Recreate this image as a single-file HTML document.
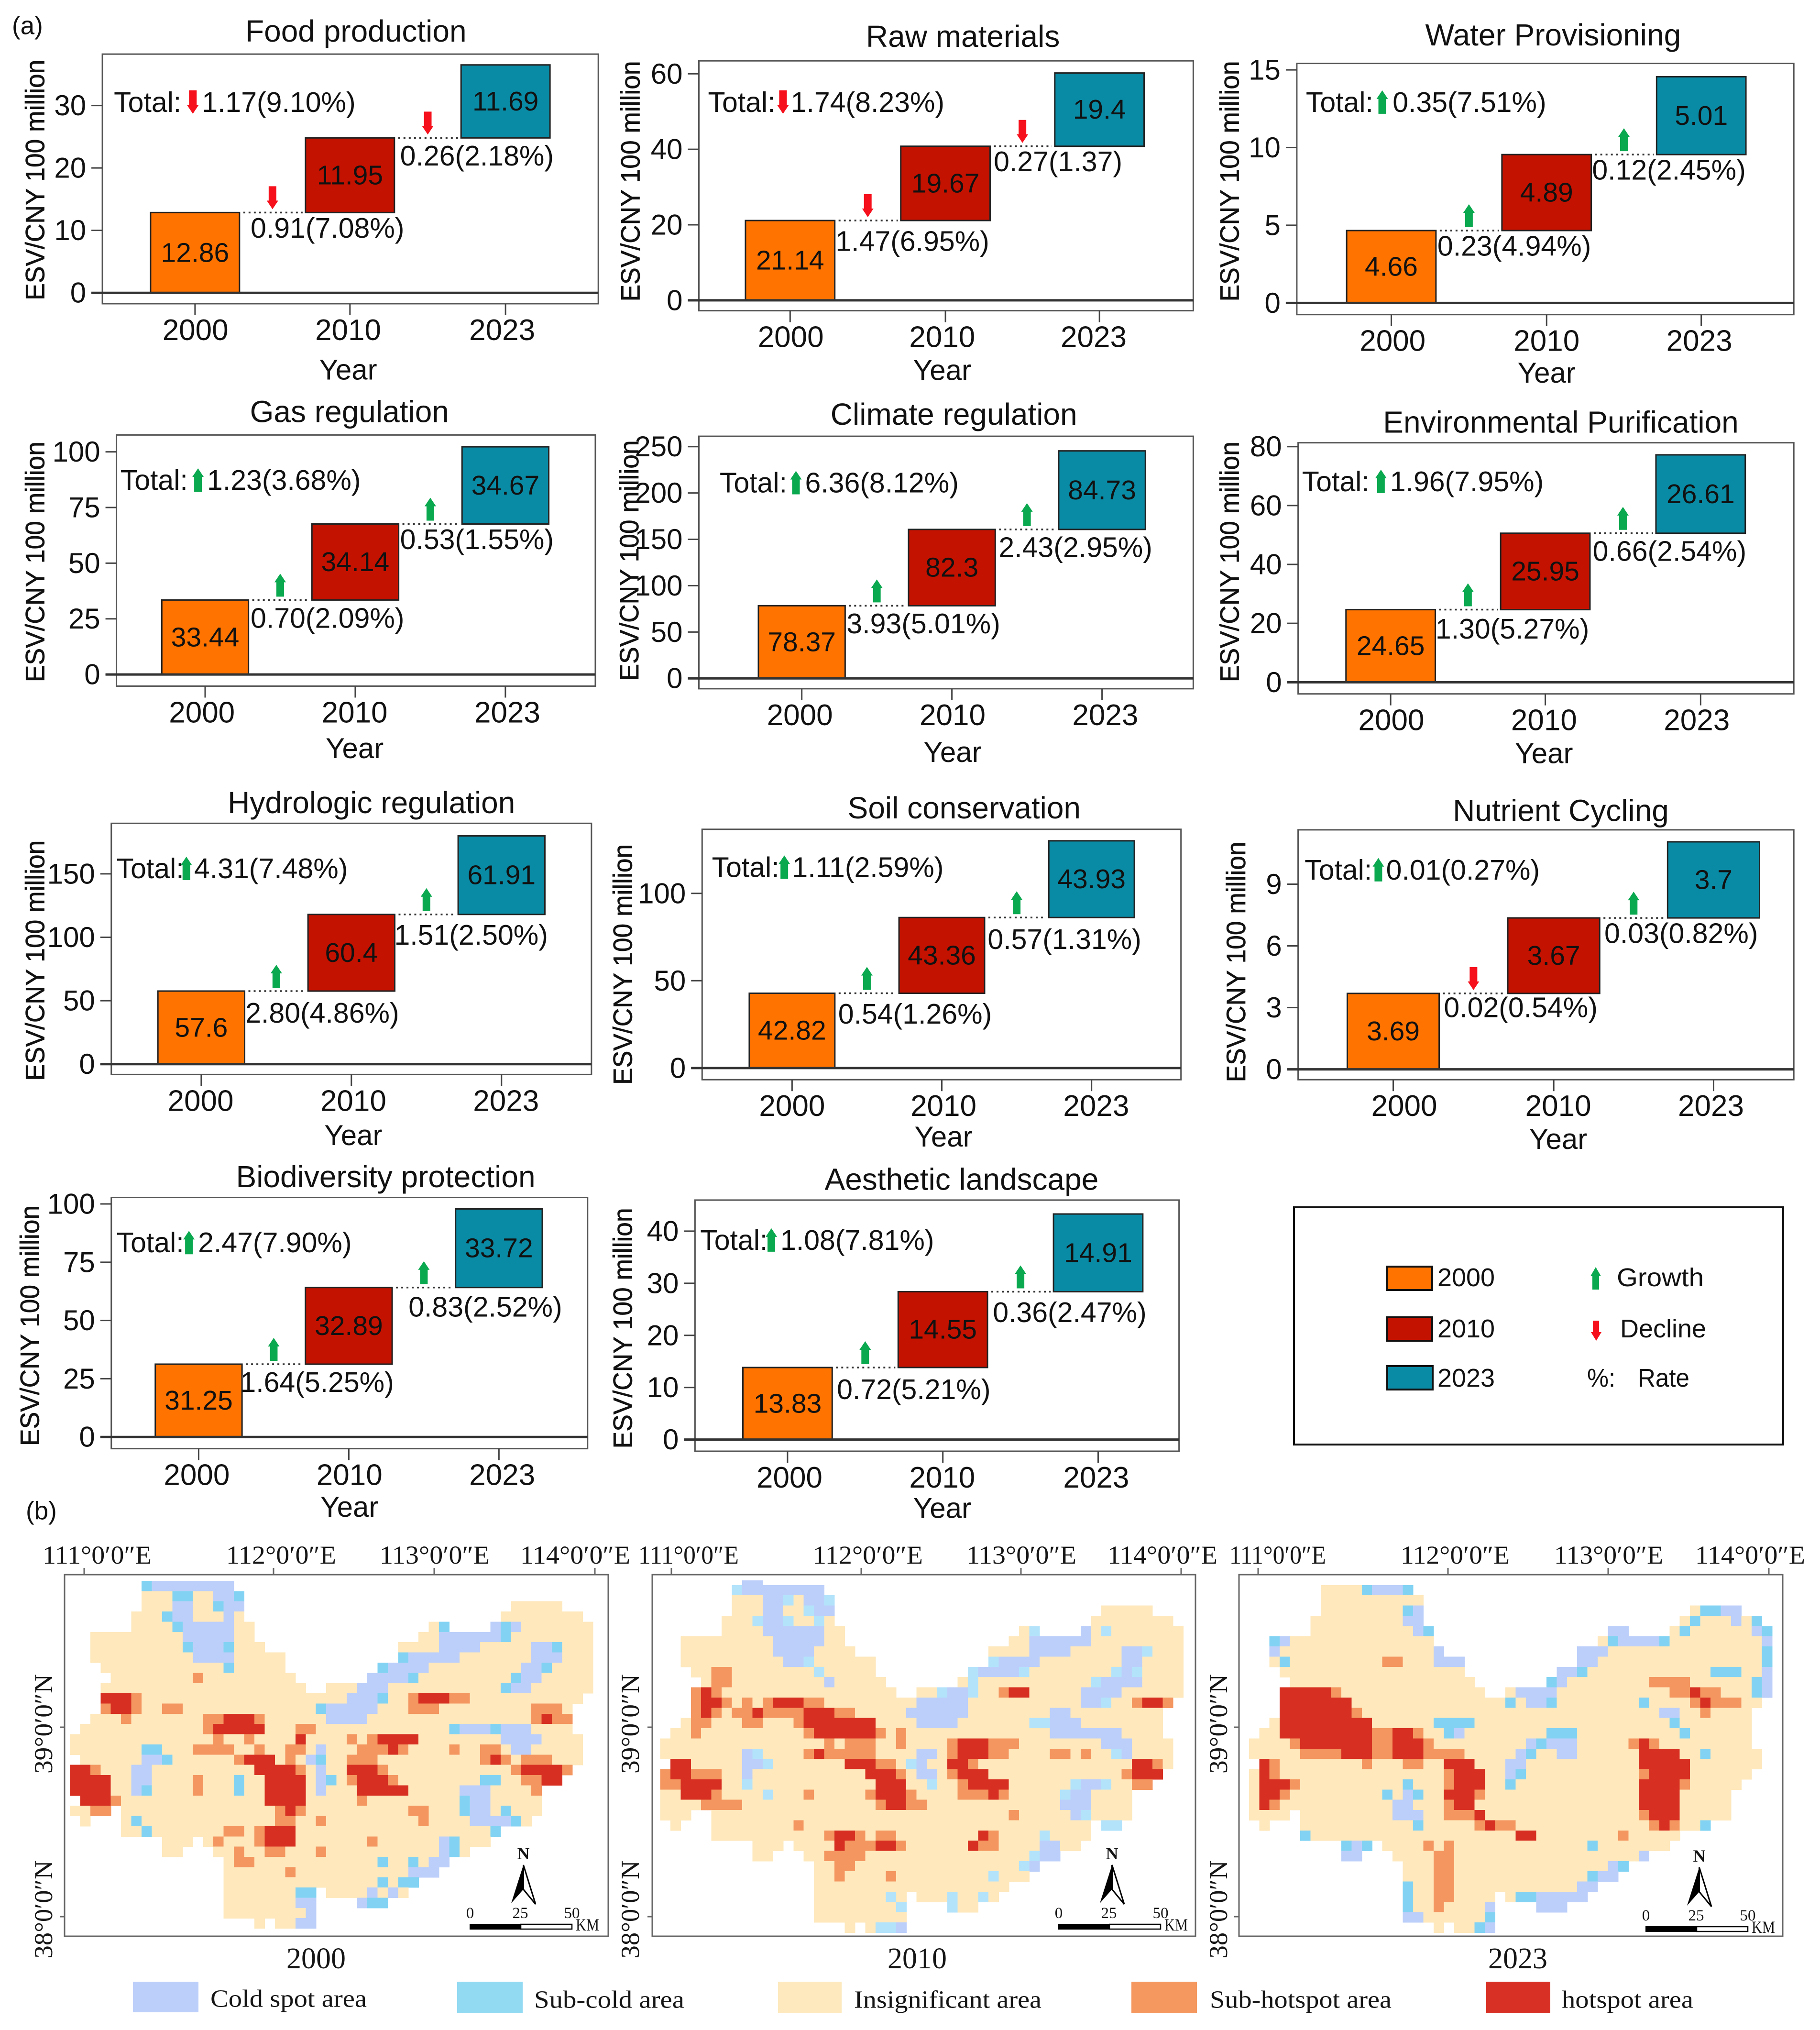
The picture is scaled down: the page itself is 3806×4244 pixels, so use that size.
<!DOCTYPE html>
<html lang="en">
<head>
<meta charset="utf-8">
<title>ESV waterfall panels and hotspot maps</title>
<style>
html,body{margin:0;padding:0;background:#fff}
svg{display:block}
.sans{font-family:"Liberation Sans",sans-serif;fill:#111}
.serif{font-family:"Liberation Serif",serif;fill:#151515}
text{dominant-baseline:central}
</style>
</head>
<body>
<svg id="figure" xmlns="http://www.w3.org/2000/svg" width="3806" height="4244" viewBox="0 0 3806 4244">
<rect x="0" y="0" width="3806" height="4244" fill="#fff"/>
<text class="sans" x="25" y="54" font-size="53">(a)</text>
<text class="sans" x="54" y="3159" font-size="53">(b)</text>
<g id="charts"></g>

<g>
<rect x="2706" y="2524" width="1023" height="496" fill="#fff" stroke="#111" stroke-width="4"/>
<rect x="2900" y="2648" width="95" height="49" fill="#ff7300" stroke="#111" stroke-width="4"/>
<rect x="2900" y="2754" width="95" height="49" fill="#c41200" stroke="#111" stroke-width="4"/>
<rect x="2901" y="2856" width="95" height="49" fill="#0a8ba5" stroke="#111" stroke-width="4"/>
<text class="sans" x="3006" y="2671" font-size="54" textLength="120" lengthAdjust="spacingAndGlyphs">2000</text>
<text class="sans" x="3006" y="2778" font-size="54" textLength="120" lengthAdjust="spacingAndGlyphs">2010</text>
<text class="sans" x="3006" y="2881" font-size="54" textLength="120" lengthAdjust="spacingAndGlyphs">2023</text>
<polygon points="3337,2649 3348,2668 3344,2668 3344,2696 3330,2696 3330,2668 3326,2668" fill="#0aa84f"/>
<polygon points="3338,2803 3349,2785 3344,2785 3344,2761 3331,2761 3331,2785 3327,2785" fill="#f5101c"/>
<text class="sans" x="3381" y="2671" font-size="54" textLength="182" lengthAdjust="spacingAndGlyphs">Growth</text>
<text class="sans" x="3388" y="2778" font-size="54" textLength="180" lengthAdjust="spacingAndGlyphs">Decline</text>
<text class="sans" x="3319" y="2881" font-size="54" textLength="59" lengthAdjust="spacingAndGlyphs">%:</text>
<text class="sans" x="3425" y="2881" font-size="54" textLength="108" lengthAdjust="spacingAndGlyphs">Rate</text>
</g>

<g id="maps"></g>

<g fill="none" stroke="#666" stroke-width="3">
<rect x="135" y="3292" width="1137" height="756"/>
<rect x="1364" y="3292" width="1136" height="756"/>
<rect x="2591" y="3292" width="1137" height="756"/>
<path d="M176 3292v-14M572 3292v-14M908 3292v-14M1244 3292v-14M135 3611h-10M135 4007h-10"/>
<path d="M1404 3292v-14M1801 3292v-14M2135 3292v-14M2470 3292v-14M1364 3611h-10M1364 4007h-10"/>
<path d="M2631 3292v-14M3028 3292v-14M3363 3292v-14M3699 3292v-14M2591 3611h-10M2591 4007h-10"/>
</g>

<g class="serif" font-size="54" text-anchor="start">
<text class="serif" x="89" y="3251" textLength="228" lengthAdjust="spacingAndGlyphs">111°0′0″E</text>
<text class="serif" x="473" y="3251" textLength="230" lengthAdjust="spacingAndGlyphs">112°0′0″E</text>
<text class="serif" x="794" y="3251" textLength="230" lengthAdjust="spacingAndGlyphs">113°0′0″E</text>
<text class="serif" x="1088" y="3251" textLength="230" lengthAdjust="spacingAndGlyphs">114°0′0″E</text>
<text class="serif" x="1335" y="3251" textLength="210" lengthAdjust="spacingAndGlyphs">111°0′0″E</text>
<text class="serif" x="1700" y="3251" textLength="230" lengthAdjust="spacingAndGlyphs">112°0′0″E</text>
<text class="serif" x="2021" y="3251" textLength="230" lengthAdjust="spacingAndGlyphs">113°0′0″E</text>
<text class="serif" x="2316" y="3251" textLength="230" lengthAdjust="spacingAndGlyphs">114°0′0″E</text>
<text class="serif" x="2571" y="3251" textLength="202" lengthAdjust="spacingAndGlyphs">111°0′0″E</text>
<text class="serif" x="2929" y="3251" textLength="228" lengthAdjust="spacingAndGlyphs">112°0′0″E</text>
<text class="serif" x="3250" y="3251" textLength="228" lengthAdjust="spacingAndGlyphs">113°0′0″E</text>
<text class="serif" x="3545" y="3251" textLength="230" lengthAdjust="spacingAndGlyphs">114°0′0″E</text>
<text class="serif" transform="translate(91 3604) rotate(-90)" text-anchor="middle" textLength="208" lengthAdjust="spacingAndGlyphs">39°0′0″N</text>
<text class="serif" transform="translate(91 3992) rotate(-90)" text-anchor="middle" textLength="205" lengthAdjust="spacingAndGlyphs">38°0′0″N</text>
<text class="serif" transform="translate(1318 3604) rotate(-90)" text-anchor="middle" textLength="208" lengthAdjust="spacingAndGlyphs">39°0′0″N</text>
<text class="serif" transform="translate(1318 3992) rotate(-90)" text-anchor="middle" textLength="205" lengthAdjust="spacingAndGlyphs">38°0′0″N</text>
<text class="serif" transform="translate(2548 3604) rotate(-90)" text-anchor="middle" textLength="208" lengthAdjust="spacingAndGlyphs">39°0′0″N</text>
<text class="serif" transform="translate(2548 3992) rotate(-90)" text-anchor="middle" textLength="205" lengthAdjust="spacingAndGlyphs">38°0′0″N</text>
</g>

<text class="serif" x="661" y="4095" font-size="62" text-anchor="middle">2000</text>
<text class="serif" x="1918" y="4095" font-size="62" text-anchor="middle">2010</text>
<text class="serif" x="3174" y="4095" font-size="62" text-anchor="middle">2023</text>

<g transform="translate(0 0)">
<text class="serif" x="1094.5" y="3875" font-size="36" text-anchor="middle" font-weight="bold">N</text>
<polygon points="1094.5,3899 1069,3979 1094.5,3950" fill="#000"/>
<polygon points="1094.5,3899 1120,3981 1094.5,3950" fill="#fff" stroke="#000" stroke-width="3"/>
<text class="serif" x="983" y="4000" font-size="33" text-anchor="middle">0</text>
<text class="serif" x="1088" y="4000" font-size="33" text-anchor="middle">25</text>
<text class="serif" x="1196" y="4000" font-size="33" text-anchor="middle">50</text>
<rect x="982" y="4022" width="107" height="12" fill="#000"/>
<rect x="1089" y="4023" width="107" height="10" fill="#fff" stroke="#000" stroke-width="2.5"/>
<text class="serif" x="1204" y="4024" font-size="36" textLength="49" lengthAdjust="spacingAndGlyphs">KM</text>
</g>
<g transform="translate(1231 0)">
<text class="serif" x="1094.5" y="3875" font-size="36" text-anchor="middle" font-weight="bold">N</text>
<polygon points="1094.5,3899 1069,3979 1094.5,3950" fill="#000"/>
<polygon points="1094.5,3899 1120,3981 1094.5,3950" fill="#fff" stroke="#000" stroke-width="3"/>
<text class="serif" x="983" y="4000" font-size="33" text-anchor="middle">0</text>
<text class="serif" x="1088" y="4000" font-size="33" text-anchor="middle">25</text>
<text class="serif" x="1196" y="4000" font-size="33" text-anchor="middle">50</text>
<rect x="982" y="4022" width="107" height="12" fill="#000"/>
<rect x="1089" y="4023" width="107" height="10" fill="#fff" stroke="#000" stroke-width="2.5"/>
<text class="serif" x="1204" y="4024" font-size="36" textLength="49" lengthAdjust="spacingAndGlyphs">KM</text>
</g>
<g transform="translate(2459 5)">
<text class="serif" x="1094.5" y="3875" font-size="36" text-anchor="middle" font-weight="bold">N</text>
<polygon points="1094.5,3899 1069,3979 1094.5,3950" fill="#000"/>
<polygon points="1094.5,3899 1120,3981 1094.5,3950" fill="#fff" stroke="#000" stroke-width="3"/>
<text class="serif" x="983" y="4000" font-size="33" text-anchor="middle">0</text>
<text class="serif" x="1088" y="4000" font-size="33" text-anchor="middle">25</text>
<text class="serif" x="1196" y="4000" font-size="33" text-anchor="middle">50</text>
<rect x="982" y="4022" width="107" height="12" fill="#000"/>
<rect x="1089" y="4023" width="107" height="10" fill="#fff" stroke="#000" stroke-width="2.5"/>
<text class="serif" x="1204" y="4024" font-size="36" textLength="49" lengthAdjust="spacingAndGlyphs">KM</text>
</g>

<g>
<rect x="278" y="4143" width="137" height="64" fill="#bccffa"/>
<text class="serif" x="440" y="4179" font-size="52" textLength="327" lengthAdjust="spacingAndGlyphs">Cold spot area</text>
<rect x="956" y="4143" width="137" height="66" fill="#92d9f2"/>
<text class="serif" x="1117" y="4181" font-size="52" textLength="314" lengthAdjust="spacingAndGlyphs">Sub-cold area</text>
<rect x="1627" y="4143" width="133" height="66" fill="#fde9bd"/>
<text class="serif" x="1786" y="4181" font-size="52" textLength="392" lengthAdjust="spacingAndGlyphs">Insignificant area</text>
<rect x="2366" y="4143" width="137" height="66" fill="#f49860"/>
<text class="serif" x="2530" y="4181" font-size="52" textLength="380" lengthAdjust="spacingAndGlyphs">Sub-hotspot area</text>
<rect x="3108" y="4143" width="134" height="66" fill="#d83024"/>
<text class="serif" x="3266" y="4181" font-size="52" textLength="275" lengthAdjust="spacingAndGlyphs">hotspot area</text>
</g>
</svg>

<script>
/* ---------- chart data ---------- */
const panelTitles = ["Food production","Raw materials","Water Provisioning","Gas regulation","Climate regulation","Environmental Purification","Hydrologic regulation","Soil conservation","Nutrient Cycling","Biodiversity protection","Aesthetic landscape"];
const years = ["2000","2010","2023"];
const values2000 = [12.86,21.14,4.66,33.44,78.37,24.65,57.6,42.82,3.69,31.25,13.83];
const values2010 = [11.95,19.67,4.89,34.14,82.3,25.95,60.4,43.36,3.67,32.89,14.55];
const values2023 = [11.69,19.4,5.01,34.67,84.73,26.61,61.91,43.93,3.7,33.72,14.91];
const totalChangeLabels = ["1.17(9.10%)","1.74(8.23%)","0.35(7.51%)","1.23(3.68%)","6.36(8.12%)","1.96(7.95%)","4.31(7.48%)","1.11(2.59%)","0.01(0.27%)","2.47(7.90%)","1.08(7.81%)"];
const firstChangeLabels = ["0.91(7.08%)","1.47(6.95%)","0.23(4.94%)","0.70(2.09%)","3.93(5.01%)","1.30(5.27%)","2.80(4.86%)","0.54(1.26%)","0.02(0.54%)","1.64(5.25%)","0.72(5.21%)"];
const secondChangeLabels = ["0.26(2.18%)","0.27(1.37)","0.12(2.45%)","0.53(1.55%)","2.43(2.95%)","0.66(2.54%)","1.51(2.50%)","0.57(1.31%)","0.03(0.82%)","0.83(2.52%)","0.36(2.47%)"];
const yTickLabels = [[0,10,20,30],[0,20,40,60],[0,5,10,15],[0,25,50,75,100],[0,50,100,150,200,250],[0,20,40,60,80],[0,50,100,150],[0,50,100],[0,3,6,9],[0,25,50,75,100],[0,10,20,30,40]];

/* ---------- map data: one string per grid row, runs of class+column range ---------- */
/* c cold spot, s sub-cold, i insignificant, h sub-hotspot, H hotspot */
const map2000Cells = [
"s7 c8-15",
"i7-9 s10-11 i12-13 c14-15 s16",
"i7-9 c10-11 i12-13 s14 c15-16 i43-47",
"i6-8 s9 c10-11 i12-14 c15 i16 i42-49",
"i6-9 s10 c11-15 i16-17 i35 s36 c41 s42 c43 i44-50",
"i2-10 c11-15 i16-17 i34-35 c36-41 s42 i43-50",
"i2-10 s11 c12-14 s15 i16-18 i32-35 c36-39 i40-44 c45-46 s47 i48-50",
"i2-11 c12-15 i16-20 s32 c33-37 i38-44 c45-47 i48-50",
"i3-14 s15 i16-20 s30 c31-34 i35-43 c44-45 s46 i47-50",
"i4-11 h12 i13-21 c29-32 s33 i34-42 s43 c44-45 i46-50",
"i3-22 i25-27 c28-30 i31-41 s42 c43-44 i45-50",
"H3-5 h6 i7-26 c27-29 s30 i31-32 h33 H34-36 h37-38 i39-49",
"h3 H4-5 h6 i7-8 h9-10 i11-23 s24 c25-29 i30-32 h33-35 i36-44 h45-47 i48",
"i2-4 h5 i6-12 h13-14 H15-17 h18 i19-24 c25-28 i29-44 h45 H46 h47-48",
"i1-12 h13 H14-18 i19-21 h22-23 i24-36 s37 c38-40 s41 c42-44 i45-48",
"i0-13 h14 i15-16 h17 i18-21 H22 i23-26 h27 i28 h29 H30-33 i34-41 c42-45 i46-49",
"i0-6 s7-8 i9-11 h12-15 i16-17 h18 i19-20 h21-22 i23 c24 i25-27 h28-30 H31 h32 i33-36 h37 i38-39 h40-41 i42 c43-44 i45-49",
"i1-6 c7-8 s9 i10-15 h16 H17-19 i20 h21 i22 c23 s24 i25-26 h27-29 i30-39 h40 H41 h42 i43 h44-46 i47-49",
"H0-1 h2 i3-5 c6-7 i8-17 H18-21 h22 i23 c24 i25-26 H27-29 h30 i31-42 h43 H44-47 h48",
"H0-3 i4-5 c6-7 i8-11 h12 i13-15 s16 i17-18 H19-22 i23 c24 s25 i26 h27 H28-30 h31 i32-39 s40-41 i42-43 h44-45 H46-47",
"H0-3 i4-5 c6 s7 i8-11 h12 i13-15 s16 i17-18 H19-22 i23 c24 i25-27 H28-32 i33-37 c38-40 i41-44 h45",
"H1-3 h4 i5-18 H19-22 i23-27 h28 i29-37 s38 c39-40 i41-45",
"i0-1 h2-3 i5-19 h20 H21 h22 i23-32 h33-34 i35-37 s38 c39-40 i41 s42 i43-45",
"i1 i5 s6 i7-19 h20-21 i22-23 h24 i25-33 h34 i35-38 c39-42 s43 i44",
"i5-6 s7 i8-14 h15-16 i17 h18 H19-21 i22-40 s41",
"i9-11 i13 h14 i15-17 h18 H19-21 i22-28 h29 i30-35 c36 s37 i38-40",
"i9-10 i14-15 h16 i17-18 h19-20 i21-23 h24 i25-35 c36 s37 i38",
"i15 h16-17 i18-29 s30 i31-32 s33 i34 c35-36",
"i15-20 h21 i22-32 c33-35",
"i15-29 s30 i31 s32-33",
"i15-21 s22-23 i25-28 c29 i30 c31 i32",
"i15-21 c22-23 c28 s29-30",
"i15-22 c23",
"i18 i20-21 c22-23"
];
const map2010Cells = [
"c8-9",
"s7 c8-15",
"i7-9 c10-11 s12 i13 c14-15 s16",
"i7-9 c10-11 i12-13 s14 c15-16 i43-47",
"i6-8 s9 c10-11 s12 i13-14 s15 i16 i42-49",
"i6-9 c10-15 i16-17 i35 s36 c41 i42 s43 i44-50",
"i2-10 c11-15 i16-17 i34-35 c36-41 i42-50",
"i2-10 c11-14 i15-18 i32-35 c36-39 i40-44 c45-46 s47 i48-50",
"i2-11 c12-13 s14 i15-20 s32 c33-36 i37-44 c45-46 i47-50",
"i3-4 h5-6 i7-14 s15 i16-20 s30 c31-34 s35 i36-43 s44 c45 s46 i47-50",
"i4 h5-6 i7-15 c16 i17-21 i29 s30 i31-41 s42 c43-46 i47-50",
"h3 H4 h5 i6-22 i25-26 s27 c28-29 s30 i31-32 h33 H34-35 i36-40 c41-44 i45-50",
"h3 H4-5 h6 i7 h8 i9 h10 H11-13 h14-15 i16-24 c25-29 i30-40 c41-42 s43 i44-45 h46 H47-48 h49",
"h3 H4 h5 i6 h7-8 H9 h10-13 H14-16 h17-18 i19-23 c24-29 i30-37 c38-39 i40-48",
"i2 h3-4 i5-7 h8-9 i10-12 h13 H14-20 i21-24 c25-28 i29-35 s36-37 c38-40 i41-48",
"i1-2 h3 i4-13 h14 H15-20 h21 i22 h23 i24-37 c38-44 i45-48",
"i0-15 h16 i17 h18-20 i21-22 h23 i24-27 h28 H29-31 h32-34 i35-42 c43-45 i46-49",
"i0-7 c8 s9 i10-13 h14 H15 h16-20 i21-24 c25-26 i27 h28 H29-31 h32-33 i34-37 h38-39 i40 h41 i42-43 s44 c45 i46-49",
"H1-2 i3-7 c8-9 s10 i11-17 H18-20 h21-22 i23 s24 c25 i26-27 H28-29 h30 i31-45 H46-47 h48 i49",
"h0 H1-2 h3-5 i6-7 c8 i9-19 H20-22 h23 i24 c25-26 i27 h28 H29-31 i32-44 h45 H46-48",
"h0-1 H2-5 i6-7 s8 i9-20 H21-23 i24-25 s26 i27-28 h29 H30-33 i34-39 s40 c41-42 s43 i44-45 h46-47",
"i0-1 H2-4 h5 i6-9 s10 i11-13 h14 i15-19 h20 H21-23 h24 i25-28 h29-31 H32 h33 i34-38 s39 c40-41 i42-45",
"i0-3 h4-7 i8-20 h21 H22-23 h24-25 i26-38 c39-41 i42-45",
"i0-2 i5-33 h34 i35-39 c40 s41 i42-45",
"i1 i5-12 h13 i14-41 s43-44",
"i5-15 h16 H17-18 h19 i20 h21-22 i23-30 H31 h32 i33-36 s37 i38-41",
"i9-11 i13-16 H17 h18-20 H21-22 h23 i24-29 H30 h31-32 i33-36 c37-38 i39-40",
"i9-10 i14-15 h16-19 i20-35 s36 c37-38",
"i15-16 h17-18 i19-34 s35 c36",
"i15-16 h17 i18-21 h22 i23-31 s32 i33-35",
"i15-33",
"i15-21 s22 i23 i25-27 s28 i29-30 s31 i32",
"i15-22 s23 s28 i29-30",
"i15-23",
"i18 i20 s21-22 c23"
];
const map2023Cells = [
"",
"i7-10 s11 c12-14 s15",
"i7-16",
"i7-14 s15 c16 i43 s44-45 c46-47",
"i6-14 c15-16 i42 s43 i44-46 c47 i48 s49",
"i6-15 c16 s17 c35-36 i41 s42 i43-48 c49 s50",
"s2 c3 i4-17 i34 s35 c36-39 s40 i41-49 c50",
"c2 i3-17 c18 c32-34 i35-49 s50",
"i2 s3 i4-12 h13-14 i15-17 c18-20 c32-33 i34-49 s50",
"i3-20 c30-31 s32 i33-44 s45-47 i48-49 c50",
"i4-21 s29 c30 i31-38 h39-42 i43-48 s49 c50",
"H3-7 h8 i9-22 i25 c26-29 i30-40 h41-42 H43 h44-45 i46-48 s49 c50",
"H3-9 i10-24 s25 i26 c27-28 s29 i30-37 s38 i39-42 h43 H44 h45-47 i48-49",
"H3-9 h10 i11-39 c40-41 i42-43 h44 i45-48",
"i2 H3-11 i12-17 s18-21 i22-40 s41 i42-48",
"i1-2 H3-11 h12-13 H14-15 h16 i17-18 s19 c20 i21-28 s29-31 i32-41 s42 i43-48",
"i0-3 h4 H5-11 h12-13 H14-16 h17 i18-26 c27 s28 c29-31 i32-36 h37 H38 h39 i40-48",
"i0-4 h5-8 H9-11 h12-13 H14-16 h17-20 i21-25 c26 s27 i28-29 c30-31 i32-37 H38-41 i42-43 s44 i45-49",
"H1 h2 i3-10 h11 i12-14 h15-16 i17-18 H19-21 i22-24 c25-26 i27-37 H38-42 i43-49",
"i0 H1 h2 i3-18 h19 H20-22 i23-24 c25 s26 i27-37 h38 H39-42 i43-48",
"i0 H1-3 h4 i5-14 s15 i16-18 h19 H20-22 i23-24 s25 i26-37 H38-41 h42 i43-47",
"i0 H1-2 h3 i4-12 s13 i14 c15 s16 i17-18 H19-21 h22 i23-37 H38-41 i42-46",
"i0 H1 h2 i3-13 c14-15 i16-18 h19 H20-21 i22-37 H38-41 i42-46",
"i0-3 i5-13 c14-16 i17-18 h19-21 H22 i23-37 h38 H39-41 i42-46",
"i1 i5-15 s16 i17-21 h22 H23 h24-25 i26-38 h39 H40 h41 i42-43 s44",
"s5 i6-25 H26-27 i28-35 h36 i37-41",
"s9 c10 s11 i13-16 h17 i18 h19 i20-32 s33 i34-40",
"c9-10 i14-17 h18-19 i20-37 c38",
"i15-17 h18-19 i20-34 c35 s36",
"i15-17 h18-19 i20-32 s33 c34-35",
"s15 i16-17 h18-19 i20-31 c32-33",
"s15 i16-17 h18-19 i20-23 i25 s26-27 c28-32",
"s15 i16-17 h18 i19-22 c23 c28-30",
"c15-16 i17-22 s23",
"i18 i20-21 s22 c23"
];

/* ---------- layout (not data): panel placement in reference preview units ---------- */
const S = 2.7065;
const barColors = ["#ff7300", "#c41200", "#0a8ba5"];
const SVG_NS = "http://www.w3.org/2000/svg";
const panelFrames = [
 {l:79.1,r:462.3,t:41.8,b:234.6,zero:226.2,tickTop:81.5,bars:[150.7,270.4,390.6],bw:68.7,labs:[151,269,388],tx:275,ty:24,ax:27,ay:139,totX:88,totY:79,arrX:149,numX:156,yearDy:51,l1x:253,l1dy:12,l2x:368.5,l2dy:14},
 {l:540,r:922,t:47,b:240,zero:232,tickTop:57,bars:[610.5,730.5,849.5],bw:69,labs:[611,728,845],tx:744,ty:28,ax:487,ay:140,totX:547,totY:79,arrX:605,numX:611,yearDy:46,l1x:705,l1dy:16,l2x:817.5,l2dy:12},
 {l:1002,r:1386,t:49,b:243,zero:234,tickTop:54,bars:[1075,1195,1314.5],bw:69,labs:[1076,1195,1313],tx:1200,ty:27,ax:950,ay:140,totX:1009,totY:79,arrX:1068,numX:1076,yearDy:45,l1x:1170,l1dy:12,l2x:1289.5,l2dy:12},
 {l:90,r:460,t:336,b:530,zero:521,tickTop:349,bars:[158.5,274.5,390.5],bw:67,labs:[156,274,392],tx:270,ty:318,ax:27,ay:434,totX:93,totY:371,arrX:153,numX:160,yearDy:48,l1x:253,l1dy:14,l2x:368.5,l2dy:12},
 {l:540,r:922,t:337,b:532,zero:524,tickTop:345,bars:[619.5,735.5,851.5],bw:67,labs:[618,736,854],tx:737,ty:320,ax:486,ay:433,totX:556,totY:373,arrX:615,numX:622,yearDy:49,l1x:713.5,l1dy:14,l2x:831,l2dy:14},
 {l:1003,r:1386,t:342,b:536,zero:527,tickTop:345,bars:[1074.5,1194,1314],bw:69,labs:[1075,1193,1311],tx:1206,ty:326,ax:950,ay:434,totX:1006,totY:372,arrX:1067,numX:1074,yearDy:46,l1x:1168.5,l1dy:15,l2x:1290,l2dy:14},
 {l:86,r:457,t:636,b:830,zero:822,tickTop:675,bars:[155.5,271.5,387.5],bw:67,labs:[155,273,391],tx:287,ty:620,ax:27,ay:742,totX:90,totY:671,arrX:144,numX:150,yearDy:47,l1x:249,l1dy:17,l2x:364,l2dy:16},
 {l:542.5,r:912.5,t:640.6,b:834,zero:825,tickTop:690.1,bars:[612,727.7,843.4],bw:66.1,labs:[612,729,847],tx:745,ty:624,ax:481,ay:745,totX:550,totY:670,arrX:606,numX:612,yearDy:44,l1x:707,l1dy:16,l2x:822.5,l2dy:17},
 {l:1003,r:1386,t:641,b:834,zero:826,tickTop:683,bars:[1076.5,1200.5,1324],bw:71,labs:[1085,1204,1322],tx:1206,ty:626,ax:955,ay:743,totX:1008,totY:672,arrX:1065,numX:1071,yearDy:46,l1x:1175,l1dy:11,l2x:1299,l2dy:12},
 {l:86,r:454,t:925,b:1119,zero:1110,tickTop:930,bars:[153.5,269.5,385.5],bw:67,labs:[152,270,388],tx:298,ty:909,ax:23,ay:1024,totX:90,totY:960,arrX:146,numX:153,yearDy:45,l1x:245,l1dy:14,l2x:375,l2dy:15},
 {l:537,r:911,t:927,b:1121,zero:1112,tickTop:951,bars:[608.5,728.5,848.5],bw:69,labs:[610,728,847],tx:743,ty:911,ax:481,ay:1026,totX:541,totY:958,arrX:596,numX:603,yearDy:44,l1x:706,l1dy:17,l2x:826.5,l2dy:16}
];

function create(tag, attrs, parent, content) {
  const node = document.createElementNS(SVG_NS, tag);
  for (const key in attrs) node.setAttribute(key, attrs[key]);
  if (content !== undefined) node.textContent = content;
  parent.appendChild(node);
  return node;
}

function drawArrow(parent, cx, top, len, isUp) {
  const color = isUp ? "#0aa84f" : "#f5101c";
  const head = 18, hw = 12, sw = 8;
  const bottom = top + len;
  const pts = isUp
    ? [[cx,top],[cx+hw,top+head],[cx+sw,top+head],[cx+sw,bottom],[cx-sw,bottom],[cx-sw,top+head],[cx-hw,top+head]]
    : [[cx,bottom],[cx+hw,bottom-head],[cx+sw,bottom-head],[cx+sw,top],[cx-sw,top],[cx-sw,bottom-head],[cx-hw,bottom-head]];
  const el = create("polygon", {points: pts.map(p => p.join(",")).join(" "), fill: color}, parent);
  
  
}

function drawPanel(index) {
  const f = panelFrames[index];
  const root = document.getElementById("charts");
  const g = create("g", {}, root);
  
  

  const ticks = yTickLabels[index];
  const topTickValue = ticks[ticks.length - 1];
  const zeroPx = f.zero * S;
  const unit = (f.zero - f.tickTop) * S / topTickValue;
  const yScale = v => zeroPx - v * unit;

  const l = f.l * S, r = f.r * S, t = f.t * S, b = f.b * S;

  const title = create("text", {class:"sans", x:f.tx*S, y:f.ty*S, "font-size":64, "text-anchor":"middle"}, g, panelTitles[index]);
  
  

  const frame = create("rect", {x:l, y:t, width:r-l, height:b-t, fill:"#fff", stroke:"#555", "stroke-width":3}, g);
  
  

  const yTitle = create("text", {class:"sans", transform:`translate(${f.ax*S} ${f.ay*S}) rotate(-90)`, "font-size":56, "text-anchor":"middle", textLength:503, lengthAdjust:"spacingAndGlyphs", stroke:"#111", "stroke-width":0.7}, g, "ESV/CNY 100 million");
  
  

  ticks.forEach(v => {
    const y = yScale(v);
    const tick = create("line", {x1:l-23, x2:l, y1:y, y2:y, stroke:"#444", "stroke-width":3}, g);
    
    
    const lab = create("text", {class:"sans", x:l-34, y:y, "font-size":60, "text-anchor":"end"}, g, String(v));
    
    
  });

  const steps = [values2000[index], values2010[index], values2023[index]];
  let base = 0;
  const tops = [];
  const rights = [];
  const lefts = [];
  steps.forEach((v, i) => {
    const cx = f.bars[i] * S;
    const w = f.bw * S;
    const yTop = yScale(base + v);
    const yBot = yScale(base);
    const bar = create("rect", {x:cx-w/2, y:yTop, width:w, height:yBot-yTop, fill:barColors[i], stroke:"#222", "stroke-width":3}, g);
    
    
    const val = create("text", {class:"sans", x:cx, y:(yTop+yBot)/2, "font-size":57, "text-anchor":"middle"}, g, String(v));
    
    
    tops.push(yTop);
    lefts.push(cx-w/2);
    rights.push(cx+w/2);
    base += v;

    const tick = create("line", {x1:cx, x2:cx, y1:b, y2:b+24, stroke:"#444", "stroke-width":3}, g);
    
    
    const lab = create("text", {class:"sans", x:f.labs[i]*S, y:b+20.5*S, "font-size":62, "text-anchor":"middle"}, g, years[i]);
    
    
  });

  const zeroLine = create("line", {x1:l-23, x2:r, y1:zeroPx, y2:zeroPx, stroke:"#333", "stroke-width":5}, g);
  
  

  const xTitle = create("text", {class:"sans", x:f.labs[1]*S, y:b+f.yearDy*S, "font-size":60, "text-anchor":"middle"}, g, "Year");
  
  

  const changeTexts = [firstChangeLabels[index], secondChangeLabels[index]];
  const labelXs = [f.l1x, f.l2x];
  const labelDys = [f.l1dy, f.l2dy];
  [0, 1].forEach(i => {
    const y = tops[i];
    const dots = create("line", {x1:rights[i]+8, x2:lefts[i+1]-6, y1:y, y2:y, stroke:"#333", "stroke-width":3.5, "stroke-dasharray":"4 7"}, g);
    
    
    const isUp = steps[i+1] >= steps[i];
    drawArrow(g, (rights[i] + lefts[i+1]) / 2, y - 55, 48, isUp);
    const lab = create("text", {class:"sans", x:labelXs[i]*S, y:y + labelDys[i]*S, "font-size":59, "text-anchor":"middle"}, g, changeTexts[i]);
    
    
  });

  const total = create("text", {class:"sans", x:f.totX*S, y:f.totY*S, "font-size":59}, g, "Total:");
  
  
  drawArrow(g, f.arrX*S, f.totY*S - 25, 49, steps[2] >= steps[0]);
  const totalValue = create("text", {class:"sans", x:f.numX*S, y:f.totY*S, "font-size":59}, g, totalChangeLabels[index]);
  
  
}

panelFrames.forEach((_, i) => drawPanel(i));

/* ---------- maps ---------- */
const mapPlacement = [
 {name:"2000", cells:map2000Cells, x0:145.9, y0:3305, subCold:"#82d3f3", visibleTop:0},
 {name:"2010", cells:map2010Cells, x0:1380.4, y0:3292.5, subCold:"#b3e3fb", visibleTop:3304},
 {name:"2023", cells:map2023Cells, x0:2611.8, y0:3292.5, subCold:"#82d3f3", visibleTop:0}
];
const CELL_W = 21.45, CELL_H = 21.37;

function drawMap(m) {
  const colors = {c:"#bccffa", s:m.subCold, i:"#fee8bc", h:"#f49660", H:"#d73022"};
  const g = create("g", {"shape-rendering":"crispEdges"}, document.getElementById("maps"));
  
  
  m.cells.forEach((row, r) => {
    const grid = {};
    row.split(/\s+/).filter(Boolean).forEach(run => {
      const match = run.match(/^([a-zA-Z])(\d+)(?:-(\d+))?$/);
      const from = +match[2];
      const to = match[3] ? +match[3] : from;
      for (let k = from; k <= to; k++) grid[k] = match[1];
    });
    Object.keys(grid).forEach(k => {
      const top = m.y0 + r*CELL_H;
      const clippedTop = Math.max(top, m.visibleTop);
      const cell = create("rect", {x:m.x0 + k*CELL_W, y:clippedTop, width:CELL_W+0.6, height:top + CELL_H + 0.6 - clippedTop, fill:colors[grid[k]]}, g);
      
      
    });
  });
}
mapPlacement.forEach(drawMap);
</script>
</body>
</html>
